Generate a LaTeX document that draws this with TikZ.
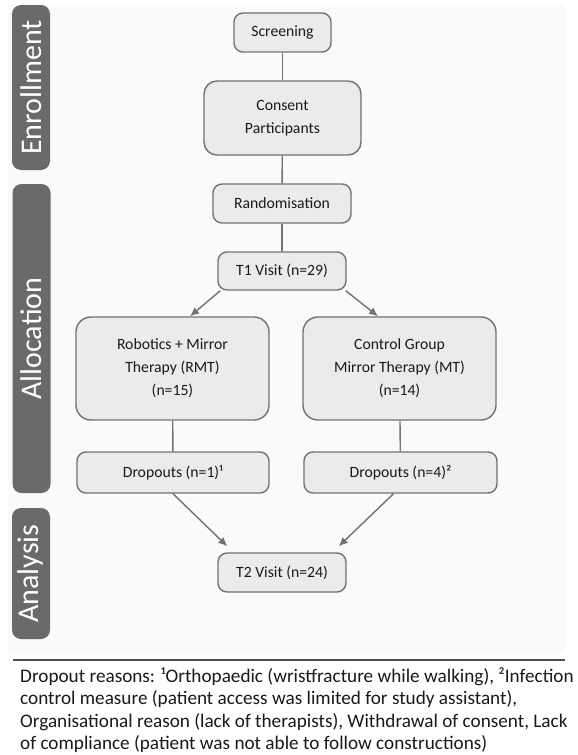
\documentclass[tikz,border=0pt]{standalone}
\usepackage{fontspec}
\setmainfont{Carlito}
\usepackage{tikz}
\usetikzlibrary{arrows.meta,positioning}

\definecolor{boxfill}{HTML}{EBEBEB}
\definecolor{boxline}{HTML}{727272}
\definecolor{barfill}{HTML}{6A6A6D}
\definecolor{panel}{HTML}{FAFAFA}

\begin{document}
\begin{tikzpicture}[>={Latex[length=9pt,width=8pt]}, x=1pt, y=-1pt,
  stage/.style={draw=boxline, line width=1.4pt, fill=boxfill, rounded corners=9pt,
    align=center, inner sep=0pt, text=black!90, font=\fontsize{15.7}{23}\selectfont},
  phase/.style={fill=barfill, rounded corners=9pt, rotate=90, inner sep=0pt,
    minimum height=38pt, text=white, font=\fontsize{30}{36}\selectfont},
  link/.style={boxline, line width=1.4pt}]

  % page size (pixels of the reference)
  \useasboundingbox (0,0) rectangle (578,755);
  \fill[white] (0,0) rectangle (578,755);
  \fill[panel] (8,5) rectangle (565,652);

  % phase bars on the left
  \node[phase, minimum width=165pt] (enroll) at (31,87.5) {Enrollment};
  \node[phase, minimum width=309pt] (alloc) at (31.5,338.5) {Allocation};
  \node[phase, minimum width=131pt] (anal) at (31,573.5) {Analysis};

  % enrollment
  \node[stage, minimum width=97pt, minimum height=39pt] (screen) at (282.5,32.5) {Screening};
  \node[stage, minimum width=157pt, minimum height=74pt, rounded corners=13pt] (consent) at (282.5,118) {Consent\\Participants};

  % allocation
  \node[stage, minimum width=138pt, minimum height=39pt] (rand) at (282,203.5) {Randomisation};
  \node[stage, minimum width=128pt, minimum height=38pt] (tone) at (282,271) {T1 Visit (n=29)};
  \node[stage, minimum width=193pt, minimum height=103pt, rounded corners=15pt] (rmt) at (172.5,368.5) {Robotics + Mirror\\Therapy (RMT)\\(n=15)};
  \node[stage, minimum width=193pt, minimum height=103pt, rounded corners=15pt] (mt) at (399.5,368.5) {Control Group\\Mirror Therapy (MT)\\(n=14)};
  \node[stage, minimum width=192pt, minimum height=41pt] (dropl) at (173,472.5) {Dropouts (n=1)¹};
  \node[stage, minimum width=193pt, minimum height=41pt] (dropr) at (400.5,472.5) {Dropouts (n=4)²};

  % analysis
  \node[stage, minimum width=128pt, minimum height=39pt] (ttwo) at (282,572.5) {T2 Visit (n=24)};

  % connectors
  \draw[link] (screen) -- (consent);
  \draw[link] (consent) -- (rand);
  \draw[link] (rand) -- (tone);
  \draw[link] (rmt) -- (dropl);
  \draw[link] (mt) -- (dropr);
  \draw[link,->] ([xshift=3pt]tone.south west) -- ([xshift=17.5pt]rmt.north);
  \draw[link,->] ([xshift=-1pt]tone.south east) -- ([xshift=-21.5pt]mt.north);
  \draw[link,->] (dropl.south) -- ([xshift=10pt,yshift=6pt]ttwo.north west);
  \draw[link,->] ([xshift=-7pt]dropr.south) -- ([xshift=-8pt,yshift=6pt]ttwo.north east);

  % footnote
  \coordinate (ruleL) at (13,660);
  \coordinate (ruleR) at (565,660);
  \draw[black!70, line width=1.5pt] (ruleL) -- (ruleR);
  \node[anchor=north west, align=left, inner sep=0pt, text=black!90,
    font=\fontsize{19.2}{22.6}\selectfont] (note) at (20,667)
    {Dropout reasons: ¹Orthopaedic (wristfracture while walking), ²Infection\\
     control measure (patient access was limited for study assistant),\\
     Organisational reason (lack of therapists), Withdrawal of consent, Lack\\
     of compliance (patient was not able to follow constructions)};

\end{tikzpicture}
\end{document}
